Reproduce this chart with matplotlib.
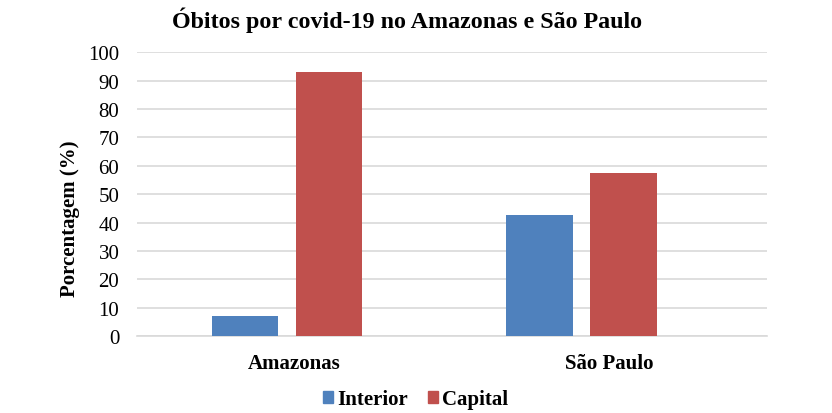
import matplotlib
matplotlib.use("Agg")
import matplotlib.pyplot as plt
from matplotlib.patches import Patch
import numpy as np

categories = ["Amazonas", "São Paulo"]
series_names = ["Interior", "Capital"]
interior = [7.1, 42.7]
capital = [92.9, 57.3]
yticks = [0, 10, 20, 30, 40, 50, 60, 70, 80, 90, 100]
title = "Óbitos por covid-19 no Amazonas e São Paulo"
ylabel = "Porcentagem (%)"

colors = ["#4F81BD", "#C0504D"]
plt.rcParams["font.family"] = ["Liberation Serif", "DejaVu Serif"]

fig = plt.figure(figsize=(8.32, 4.14), dpi=100)
ax = fig.add_axes([136.7 / 832, 1 - 337 / 414, (767.3 - 136.7) / 832, (337 - 53.3) / 414])

x = np.arange(len(categories))
group_shift = np.array([-0.024, -0.089])
bw = 0.210
off = 0.1332
ax.bar(x + group_shift - off, interior, width=bw, color=colors[0], zorder=3)
ax.bar(x + group_shift + off, capital, width=bw, color=colors[1], zorder=3)

ax.set_xlim(-0.5, 1.5)
ax.set_ylim(0, 100)
ax.set_yticks(yticks)
ax.set_yticklabels([str(t) for t in yticks], fontsize=15)
ax.set_xticks(x)
ax.set_xticklabels(categories, fontsize=15, fontweight="bold")
ax.tick_params(axis="y", length=0, pad=12.5)
ax.tick_params(axis="x", length=0, pad=12)
ax.grid(axis="y", color="#D9D9D9", linewidth=1.2, zorder=0)
for s in ["top", "right", "left"]:
    ax.spines[s].set_visible(False)
ax.spines["bottom"].set_color("#D9D9D9")
ax.spines["bottom"].set_linewidth(1.2)

fig.text(70.5 / 832, 195 / 414, ylabel, rotation=90, ha="center", va="center",
         fontsize=15, fontweight="bold")
fig.text(407 / 832, 1 - 20 / 414, title, ha="center", va="center",
         fontsize=17.3, fontweight="bold")

handles = [Patch(color=colors[0], label=series_names[0]),
           Patch(color=colors[1], label=series_names[1])]
fig.legend(handles=handles, loc="center", bbox_to_anchor=(415.5 / 832, 1 - 400 / 414),
           ncol=2, frameon=False, prop={"size": 15, "weight": "bold"},
           handlelength=0.5, handleheight=0.5, handletextpad=0.2, columnspacing=0.95)

fig.savefig("out.png", dpi=100)
